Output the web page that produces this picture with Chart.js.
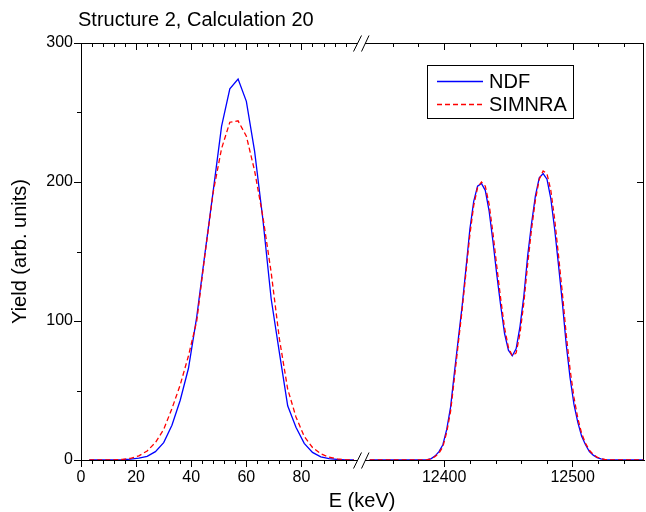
<!DOCTYPE html>
<html>
<head>
<meta charset="utf-8">
<script src="https://cdn.jsdelivr.net/npm/chart.js@4.4.0/dist/chart.umd.min.js"></script>
<style>
  html, body { margin: 0; padding: 0; background: #fff; }
  #wrap { width: 646px; height: 512px; }
</style>
</head>
<body>
<div id="wrap"><canvas id="chart" width="646" height="512"></canvas></div>
<script>
const FONT = "'Liberation Sans', Arial, sans-serif";

/* =========================
   DATA
========================= */
const chartTitle = "Structure 2, Calculation 20";
const xAxisTitle = "E (keV)";
const yAxisTitle = "Yield (arb. units)";
const seriesNames = ["NDF", "SIMNRA"];
const seriesColors = ["#0000ff", "#ff0000"];

// low-energy part of the broken axis (keV)
const lowEnergy = [3, 6, 9, 12, 15, 18, 21, 24, 27, 30, 33, 36, 39, 42, 45, 48, 51, 54, 57, 60,
  63, 66, 69, 72, 75, 78, 81, 84, 87, 90, 93, 96, 99];
const ndfLow = [0, 0, 0, 0, 0.2, 0.6, 1.3, 2.6, 6, 12.5, 25, 43, 66, 103, 149, 194, 240, 267, 274, 258,
  222, 173, 116, 77, 39, 23.5, 12, 5.5, 2.3, 1, 0.4, 0.1, 0];
const simnraLow = [0, 0, 0, 0.1, 0.5, 1.2, 3, 6.5, 12.5, 22, 37, 54, 75, 100, 148, 193, 224, 243, 244, 233,
  208, 175, 135, 87, 51, 31, 17, 9, 4.5, 2, 0.8, 0.3, 0];

// high-energy part of the broken axis (keV)
const highEnergy = [12342, 12360, 12375, 12384,
  12387, 12390, 12393, 12396, 12399, 12402, 12405, 12408, 12411, 12414,
  12417, 12420, 12423, 12426, 12429, 12432, 12435, 12438, 12441, 12444,
  12447, 12450, 12453, 12456, 12459, 12462, 12465, 12468, 12471, 12474,
  12477, 12480, 12483, 12486, 12489, 12492, 12495, 12498, 12501, 12504,
  12507, 12510, 12513, 12516, 12519, 12522, 12525, 12528,
  12540, 12555];
const ndfHigh = [0, 0, 0, 0,
  0.3, 1, 3, 6, 11, 22, 38, 63, 87, 111,
  138, 166, 186, 197, 199, 194, 179, 157, 133, 111,
  91, 79, 75, 80, 96, 118, 147, 170, 190, 203,
  206, 202, 188, 166, 140, 113, 83, 59, 40, 27,
  17, 11, 6, 3.5, 1.7, 0.8, 0.3, 0,
  0, 0];
const simnraHigh = [0, 0, 0, 0,
  0.2, 0.8, 2.5, 5, 9.5, 20, 35, 59, 84, 108,
  135, 162, 183, 196, 200, 197, 184, 163, 139, 116,
  95, 81, 75, 77, 91, 113, 141, 166, 187, 202,
  208, 206, 194, 173, 147, 120, 90, 65, 45, 30,
  19, 12, 7, 4, 2, 1, 0.4, 0.1,
  0, 0];

// ticks
const lowTicks = [0, 20, 40, 60, 80];
const lowMinorTicks = [4, 8, 12, 16, 24, 28, 32, 36, 44, 48, 52, 56, 64, 68, 72, 76, 84, 88, 92, 96];
const highTicks = [12400, 12500];
const highMinorTicks = [12360, 12380, 12420, 12440, 12460, 12480, 12520, 12540];
const yTicks = [0, 100, 200, 300];
const yMinorTicks = [50, 150, 250];

const toPoints = (xs, ys) => xs.map((x, i) => ({ x, y: ys[i] }));

/* =========================
   DECORATION PLUGIN
   (frame, minor ticks, axis break, titles, legend)
========================= */
const MAJOR = 7, MINOR = 4;
const al = v => Math.round(v) + 0.5;

function line(ctx, x1, y1, x2, y2) {
  ctx.moveTo(x1, y1);
  ctx.lineTo(x2, y2);
}

const decor = {
  id: "decor",
  beforeDatasetsDraw(chart) {
    const { ctx, chartArea: a, scales } = chart;
    const xl = scales.xLow, xh = scales.xHigh, ys = scales.y;
    const top = al(a.top), bottom = al(a.bottom), left = al(a.left), right = al(a.right - 1);

    ctx.save();
    ctx.strokeStyle = "#000";
    ctx.lineWidth = 1;
    ctx.beginPath();
    // top + right frame
    line(ctx, a.left, top, a.right, top);
    line(ctx, right, a.top, right, a.bottom + 1);

    // x ticks: bottom minor outward, top major/minor inward
    const xGroups = [[xl, lowTicks, lowMinorTicks], [xh, highTicks, highMinorTicks]];
    xGroups.forEach(([sc, majors, minors]) => {
      majors.forEach(v => {
        const px = al(sc.getPixelForValue(v));
        line(ctx, px, a.top, px, a.top + MAJOR);
      });
      minors.forEach(v => {
        const px = al(sc.getPixelForValue(v));
        line(ctx, px, a.bottom, px, a.bottom + MINOR);
        line(ctx, px, a.top, px, a.top + MINOR);
      });
    });

    // y minor ticks outward, right-side major ticks inward
    yMinorTicks.forEach(v => {
      const py = al(ys.getPixelForValue(v));
      line(ctx, a.left - MINOR, py, a.left, py);
    });
    yTicks.slice(1, -1).forEach(v => {
      const py = al(ys.getPixelForValue(v));
      line(ctx, a.right - MAJOR, py, a.right, py);
    });
    ctx.stroke();

    // axis break "//"
    const bx = xl.right;
    [bottom, top].forEach(yy => {
      ctx.fillStyle = "#fff";
      ctx.fillRect(bx - 3, yy - 2, 7, 4);
      ctx.beginPath();
      line(ctx, bx - 7.5, yy + 8, bx + 0.5, yy - 8);
      line(ctx, bx + 0.5, yy + 8, bx + 8, yy - 8);
      ctx.stroke();
    });
    ctx.restore();
  },
  afterDraw(chart) {
    const { ctx, chartArea: a, scales } = chart;
    ctx.save();
    ctx.fillStyle = "#000";
    ctx.font = "20px " + FONT;

    // chart title
    ctx.textAlign = "left";
    ctx.textBaseline = "alphabetic";
    ctx.fillText(chartTitle, 78, 26);

    // x title centred on the break
    ctx.textAlign = "center";
    ctx.fillText(xAxisTitle, scales.xLow.right + 1, 507);

    // y title
    ctx.save();
    ctx.translate(26, (a.top + a.bottom) / 2);
    ctx.rotate(-Math.PI / 2);
    ctx.textBaseline = "alphabetic";
    ctx.fillText(yAxisTitle, 0, 0);
    ctx.restore();

    // legend box
    const lx = 427, ly = 65, lw = 146, lh = 53;
    ctx.strokeStyle = "#000";
    ctx.lineWidth = 1;
    ctx.strokeRect(lx + 0.5, ly + 0.5, lw, lh);
    const rows = [81, 104];
    chart.data.datasets.slice(0, 2).forEach((ds, i) => {
      ctx.beginPath();
      ctx.strokeStyle = ds.borderColor;
      ctx.lineWidth = ds.borderWidth;
      ctx.setLineDash(ds.borderDash || []);
      ctx.moveTo(437, rows[i] + 0.5);
      ctx.lineTo(483, rows[i] + 0.5);
      ctx.stroke();
      ctx.setLineDash([]);
      ctx.textAlign = "left";
      ctx.textBaseline = "middle";
      ctx.fillText(seriesNames[i], 489, rows[i] + 1);
    });
    ctx.restore();
  }
};

/* =========================
   CHART
========================= */
function axisStyle() {
  return {
    grid: { drawOnChartArea: false, drawTicks: true, tickLength: MAJOR, color: "#000", tickColor: "#000" },
    border: { display: true, color: "#000", width: 1 },
    ticks: {
      color: "#000",
      font: { family: FONT, size: 16 },
      padding: 1,
      autoSkip: false,
      maxRotation: 0,
      includeBounds: false,
      callback: v => String(v)
    }
  };
}

function lineSet(label, points, color, dashed, axis) {
  return {
    label,
    data: points,
    xAxisID: axis,
    borderColor: color,
    borderWidth: 1.3,
    borderDash: dashed ? [5, 3] : [],
    pointRadius: 0,
    tension: 0,
    fill: false,
    order: dashed ? 0 : 1
  };
}

new Chart(document.getElementById("chart"), {
  type: "line",
  data: {
    datasets: [
      lineSet(seriesNames[0], toPoints(lowEnergy, ndfLow), seriesColors[0], false, "xLow"),
      lineSet(seriesNames[1], toPoints(lowEnergy, simnraLow), seriesColors[1], true, "xLow"),
      lineSet(seriesNames[0], toPoints(highEnergy, ndfHigh), seriesColors[0], false, "xHigh"),
      lineSet(seriesNames[1], toPoints(highEnergy, simnraHigh), seriesColors[1], true, "xHigh")
    ]
  },
  options: {
    responsive: false,
    animation: false,
    devicePixelRatio: 1,
    layout: { padding: { left: 0, right: 2, top: 43, bottom: 0 } },
    plugins: {
      legend: { display: false },
      tooltip: { enabled: false },
      title: { display: false }
    },
    scales: {
      xLow: {
        type: "linear",
        position: "bottom",
        stack: "energy",
        stackWeight: 280,
        min: 0,
        max: 101.6,
        afterBuildTicks: s => { s.ticks = lowTicks.map(v => ({ value: v })); },
        afterFit: s => { s.height = 52; },
        ...axisStyle()
      },
      xHigh: {
        type: "linear",
        position: "bottom",
        stack: "energy",
        stackWeight: 283,
        min: 12335.3,
        max: 12555.5,
        afterBuildTicks: s => { s.ticks = highTicks.map(v => ({ value: v })); },
        afterFit: s => { s.height = 52; },
        ...axisStyle()
      },
      y: {
        type: "linear",
        position: "left",
        min: 0,
        max: 300,
        afterBuildTicks: s => { s.ticks = yTicks.map(v => ({ value: v })); },
        afterFit: s => { s.width = 81; },
        ...axisStyle()
      }
    }
  },
  plugins: [decor]
});
</script>
</body>
</html>
